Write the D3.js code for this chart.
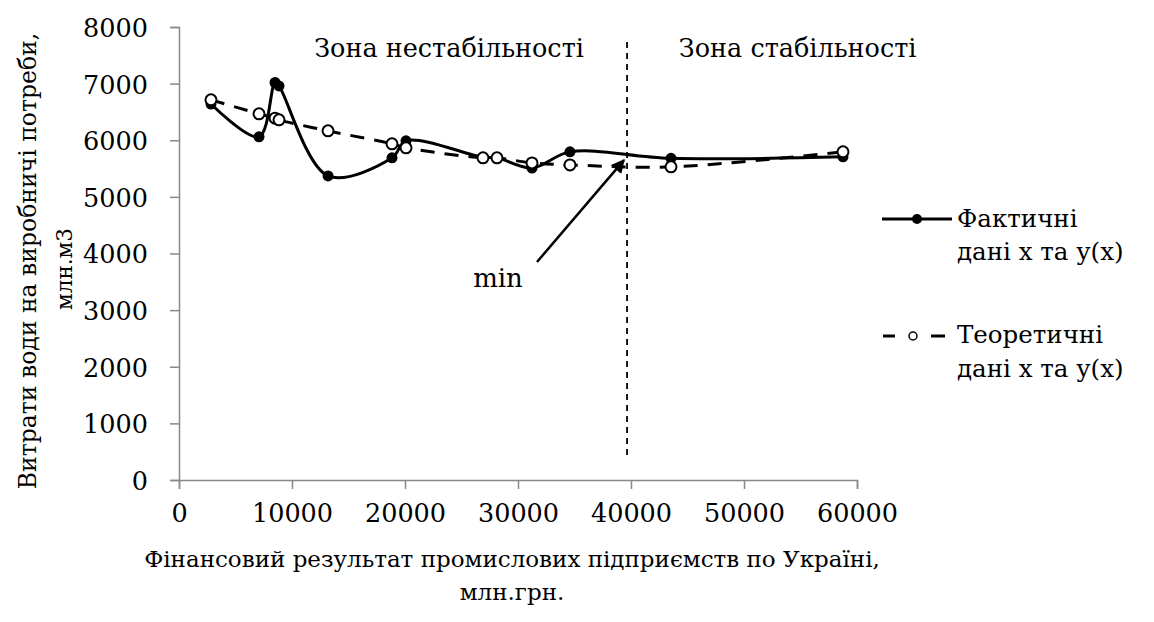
<!DOCTYPE html>
<html><head><meta charset="utf-8">
<script src="https://cdn.jsdelivr.net/npm/d3@7"></script>
<style>
body{margin:0;background:#fff;}
</style></head>
<body><svg id="c" width="1154" height="622"></svg>
<script>
const xValues = [2830, 7080, 8500, 8850, 13190, 18850, 20090, 26900, 28140, 31240, 34600, 43540, 58760];
const actualY = [6640, 6060, 7020, 6960, 5370, 5690, 5990, 5700, 5690, 5510, 5795, 5680, 5707];
const theoryY = [6714, 6466, 6390, 6360, 6166, 5936, 5866, 5689, 5689, 5600, 5565, 5530, 5795];
const xTicks = [0, 10000, 20000, 30000, 40000, 50000, 60000];
const yTicks = [0, 1000, 2000, 3000, 4000, 5000, 6000, 7000, 8000];
const boundaryX = 39650;
const boundaryYRange = [440, 7780];
const arrowFrom = [31680, 3850];
const arrowTo = [39380, 5650];
const minLabel = {x: 28230, y: 3570, text: "min"};
const zoneLabels = [{x: 23900, text: "Зона нестабільності"}, {x: 54750, text: "Зона стабільності"}];
const seriesNames = [["Фактичні", "дані х та у(х)"], ["Теоретичні", "дані х та у(х)"]];
const yTitle = ["Витрати води на виробничі потреби,", "млн.м3"];
const xTitle = ["Фінансовий результат промислових підприємств по Україні,", "млн.грн."];

const FONT = "'DejaVu Serif'";
const svg = d3.select("#c");
const x = d3.scaleLinear().domain([0, 60000]).range([179, 857]);
const y = d3.scaleLinear().domain([0, 8000]).range([480, 27]);
const axisColor = "#898989";

const xa = svg.append("g").attr("transform", "translate(0,480)")
  .call(d3.axisBottom(x).tickValues(xTicks).tickFormat(d3.format("d")).tickSize(9).tickPadding(10));
const ya = svg.append("g").attr("transform", "translate(179,0)")
  .call(d3.axisLeft(y).tickValues(yTicks).tickFormat(d3.format("d")).tickSize(9).tickPadding(22));
[xa, ya].forEach(a => {
  a.attr("font-family", FONT);
  a.select(".domain").attr("stroke", axisColor).attr("stroke-width", 1.5);
  a.selectAll(".tick line").attr("stroke", axisColor).attr("stroke-width", 1.5);
  a.selectAll(".tick text").attr("font-size", 25.5).attr("fill", "#000").style("font-family", FONT);
});
xa.selectAll(".tick text").attr("dy", "0.9em");
ya.selectAll(".tick text").attr("dy", "0.37em");

const pts = (ys) => xValues.map((v, i) => [v, ys[i]]);
const line = d3.line().x(d => x(d[0])).y(d => y(d[1])).curve(d3.curveCatmullRom.alpha(0.5));

svg.append("line").attr("x1", x(boundaryX)).attr("x2", x(boundaryX))
  .attr("y1", y(boundaryYRange[0])).attr("y2", y(boundaryYRange[1]))
  .attr("stroke", "#000").attr("stroke-width", 1.8).attr("stroke-dasharray", "6,5");

svg.append("path").datum(pts(theoryY)).attr("d", line).attr("fill", "none")
  .attr("stroke", "#000").attr("stroke-width", 3).attr("stroke-dasharray", "14,10");
svg.append("path").datum(pts(actualY)).attr("d", line).attr("fill", "none")
  .attr("stroke", "#000").attr("stroke-width", 3);

svg.selectAll("circle.a").data(pts(actualY)).enter().append("circle")
  .attr("cx", d => x(d[0])).attr("cy", d => y(d[1])).attr("r", 5.5).attr("fill", "#000");
svg.selectAll("circle.t").data(pts(theoryY)).enter().append("circle")
  .attr("cx", d => x(d[0])).attr("cy", d => y(d[1])).attr("r", 5.5)
  .attr("fill", "#fff").attr("stroke", "#000").attr("stroke-width", 2);

svg.append("defs").append("marker").attr("id", "ah").attr("viewBox", "0 0 10 10")
  .attr("refX", 9).attr("refY", 5).attr("markerWidth", 5.5).attr("markerHeight", 5.5)
  .attr("orient", "auto").append("path").attr("d", "M0,0L10,5L0,10Z").attr("fill", "#000");
svg.append("line").attr("x1", x(arrowFrom[0])).attr("y1", y(arrowFrom[1]))
  .attr("x2", x(arrowTo[0])).attr("y2", y(arrowTo[1]))
  .attr("stroke", "#000").attr("stroke-width", 2.5).attr("marker-end", "url(#ah)");

function txt(sel) { return sel.style("font-family", FONT).attr("fill", "#000"); }

txt(svg.append("text")).attr("x", x(minLabel.x)).attr("y", y(minLabel.y)).attr("text-anchor", "middle")
  .attr("dy", "0.35em").attr("font-size", 26).text(minLabel.text);

zoneLabels.forEach(d => {
  txt(svg.append("text")).attr("x", x(d.x)).attr("y", 57).attr("text-anchor", "middle")
    .attr("font-size", 25.5).text(d.text);
});

const yt = txt(svg.append("text")).attr("transform", "translate(36,261) rotate(-90)")
  .attr("text-anchor", "middle").attr("font-size", 23.5);
yt.append("tspan").attr("x", 0).attr("y", 0).text(yTitle[0]);
yt.append("tspan").attr("x", -8).attr("y", 36).attr("font-size", 21.5).text(yTitle[1]);
txt(svg.append("text")).attr("x", 512).attr("y", 567).attr("text-anchor", "middle").attr("font-size", 23).text(xTitle[0]);
txt(svg.append("text")).attr("x", 512).attr("y", 600).attr("text-anchor", "middle").attr("font-size", 23).text(xTitle[1]);

const lgLine = [219, 336];
const lgText = [[227, 260], [343, 377]];
seriesNames.forEach((names, i) => {
  const g = svg.append("g").attr("transform", `translate(0,${lgLine[i]})`);
  if (i === 0) {
    g.append("line").attr("x1", 882).attr("x2", 952).attr("stroke", "#000").attr("stroke-width", 3);
    g.append("circle").attr("cx", 917).attr("r", 5).attr("fill", "#000");
  } else {
    g.append("line").attr("x1", 883).attr("x2", 895).attr("stroke", "#000").attr("stroke-width", 3);
    g.append("line").attr("x1", 931).attr("x2", 945).attr("stroke", "#000").attr("stroke-width", 3);
    g.append("circle").attr("cx", 913).attr("r", 4).attr("fill", "#fff").attr("stroke", "#000").attr("stroke-width", 1.5);
  }
  txt(svg.append("text")).attr("x", 957).attr("y", lgText[i][0]).attr("font-size", 24.5).text(names[0]);
  txt(svg.append("text")).attr("x", 957).attr("y", lgText[i][1]).attr("font-size", 24.5).text(names[1]);
});
</script></body></html>
